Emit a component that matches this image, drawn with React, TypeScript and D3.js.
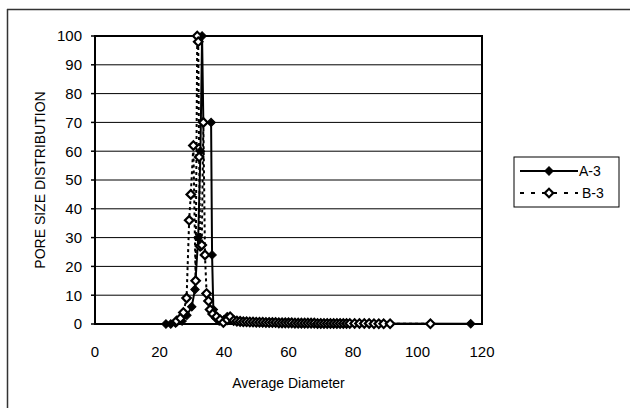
import React from 'react';
import { scaleLinear, line, symbol, symbolSquare } from 'd3';

const width = 630;
const height = 408;
const margins = { top: 36, bottom: 84, left: 95, right: 148 };

const xTicks = [0, 20, 40, 60, 80, 100, 120];
const yTicks = [0, 10, 20, 30, 40, 50, 60, 70, 80, 90, 100];

// A-3 (solid line, filled diamonds)
const aX = [22, 23.5, 25, 27, 28.5, 30, 31, 32, 32.7, 33.2, 33.6, 36, 36.3, 36.7, 37.5, 38.5, 40, 41, 42, 43, 44, 45, 46, 47, 48, 49, 50, 52, 54, 56, 58, 60, 62, 64, 66, 68, 70, 72, 74, 76, 78, 116.5];
const aY = [0, 0, 0.3, 1, 3, 6, 12, 30, 60, 100, 70, 70, 24, 5, 2, 1, 1.5, 2.5, 1.5, 1.2, 1, 0.9, 0.8, 0.7, 0.7, 0.6, 0.6, 0.5, 0.5, 0.4, 0.4, 0.4, 0.3, 0.3, 0.3, 0.3, 0.2, 0.2, 0.2, 0.2, 0.2, 0.1];

// B-3 (dotted line, open diamonds)
const bX = [25.3, 26.5, 27.4, 28.4, 29.2, 29.7, 30.5, 31.2, 31.7, 32, 32.3, 32.6, 33.1, 33.6, 34.1, 34.6, 35.2, 35.7, 36.5, 37.7, 38.8, 39.8, 41, 41.9, 43, 44, 45, 46, 47, 48, 49, 50, 51, 52, 53, 54, 55, 56, 57, 58, 59, 60, 61, 62, 63, 64, 65, 66, 67, 68, 69, 70, 71, 72, 73, 74, 75, 76, 77, 78, 79, 80.5, 82, 83.5, 85, 86.5, 88, 89.5, 91.5, 104];
const bY = [1, 2, 4, 9, 36, 45, 62, 15, 100, 98, 58, 27, 27.4, 70, 24, 10.6, 8, 5, 3.5, 2.5, 1.5, 0.5, 1.5, 2.5, 1.2, 1, 0.9, 0.8, 0.8, 0.7, 0.7, 0.6, 0.6, 0.6, 0.5, 0.5, 0.5, 0.5, 0.4, 0.4, 0.4, 0.4, 0.4, 0.3, 0.3, 0.3, 0.3, 0.3, 0.3, 0.3, 0.2, 0.2, 0.2, 0.2, 0.2, 0.2, 0.2, 0.2, 0.2, 0.2, 0.2, 0.2, 0.2, 0.2, 0.2, 0.1, 0.1, 0.1, 0.1, 0.1];

const font = "'Liberation Sans', Arial, sans-serif";

export default function App() {
  const xScale = scaleLinear().domain([0, 120]).range([margins.left, width - margins.right]);
  const yScale = scaleLinear().domain([0, 100]).range([height - margins.bottom, margins.top]);

  const aPts = aX.map((x, i) => [x, aY[i]] as [number, number]);
  const bPts = bX.map((x, i) => [x, bY[i]] as [number, number]);

  const path = line<[number, number]>()
    .x((d) => xScale(d[0]))
    .y((d) => yScale(d[1]));

  // Excel-style diamond: a square turned 45 degrees
  const diamond = symbol().type(symbolSquare).size(36)();
  const at = (x: number, y: number) => `translate(${x},${y}) rotate(45)`;

  const plotL = xScale(0);
  const plotR = xScale(120);
  const plotT = yScale(100);
  const plotB = yScale(0);

  const legX = 514;
  const legY = 157;

  return (
    <svg width={width} height={height} style={{ position: 'absolute', left: 0, top: 0, background: '#fff' }}>
      {/* outer chart frame */}
      <line x1={7} y1={9.5} x2={630} y2={9.5} stroke="#333" strokeWidth={1.5} />
      <line x1={7.5} y1={9} x2={7.5} y2={408} stroke="#333" strokeWidth={1.5} />

      {yTicks.map((t) => (
        <g key={'y' + t}>
          <line x1={plotL} x2={plotR} y1={yScale(t)} y2={yScale(t)} stroke="#000" strokeWidth={1} />
          <line x1={plotL - 4} x2={plotL} y1={yScale(t)} y2={yScale(t)} stroke="#000" strokeWidth={1.5} />
          <text x={82} y={yScale(t)} dy="0.36em" textAnchor="end" fontFamily={font} fontSize={15} fill="#000">{t}</text>
        </g>
      ))}
      {xTicks.map((t) => (
        <g key={'x' + t}>
          <text x={xScale(t)} y={357} textAnchor="middle" fontFamily={font} fontSize={15} fill="#000">{t}</text>
        </g>
      ))}

      <rect x={plotL} y={plotT} width={plotR - plotL} height={plotB - plotT} fill="none" stroke="#000" strokeWidth={2} />

      <path d={path(bPts) || ''} fill="none" stroke="#000" strokeWidth={2} strokeDasharray="3,3" />
      <path d={path(aPts) || ''} fill="none" stroke="#000" strokeWidth={2} />

      {aPts.map((d, i) => (
        <path key={'a' + i} d={diamond} transform={at(xScale(d[0]), yScale(d[1]))} fill="#000" stroke="#000" strokeWidth={1} />
      ))}
      {bPts.map((d, i) => (
        <path key={'b' + i} d={diamond} transform={at(xScale(d[0]), yScale(d[1]))} fill="#fff" stroke="#000" strokeWidth={2.2} />
      ))}

      <text x={(plotL + plotR) / 2} y={388} textAnchor="middle" fontFamily={font} fontSize={14} fill="#000">Average Diameter</text>
      <text transform={`translate(45,${(plotT + plotB) / 2}) rotate(-90)`} textAnchor="middle" fontFamily={font} fontSize={14} fill="#000">PORE SIZE DISTRIBUTION</text>

      {/* legend */}
      <rect x={legX} y={legY} width={105} height={50} fill="#fff" stroke="#000" strokeWidth={1} />
      <line x1={legX + 6} x2={legX + 64} y1={legY + 14} y2={legY + 14} stroke="#000" strokeWidth={2} />
      <path d={diamond} transform={at(legX + 35, legY + 14)} fill="#000" stroke="#000" strokeWidth={1} />
      <text x={legX + 65} y={legY + 14} dy="0.36em" fontFamily={font} fontSize={14} fill="#000">A-3</text>
      <line x1={legX + 6} x2={legX + 64} y1={legY + 36} y2={legY + 36} stroke="#000" strokeWidth={2} strokeDasharray="4,7" />
      <path d={diamond} transform={at(legX + 35, legY + 36)} fill="#fff" stroke="#000" strokeWidth={2.2} />
      <text x={legX + 68} y={legY + 36} dy="0.36em" fontFamily={font} fontSize={14} fill="#000">B-3</text>
    </svg>
  );
}
